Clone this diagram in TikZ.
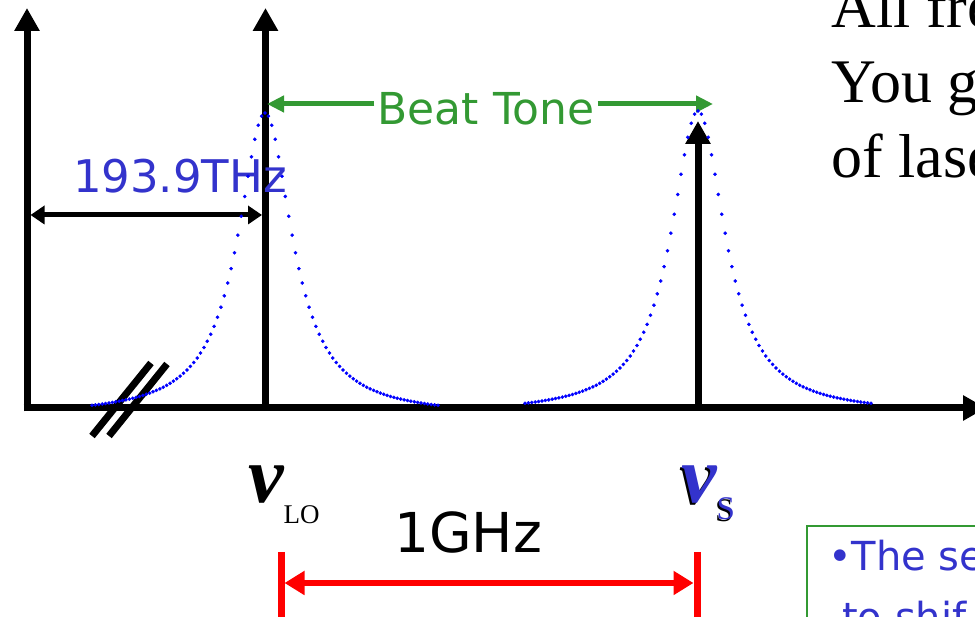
\documentclass[tikz,border=0pt]{standalone}
\usepackage{fontspec}
\setmainfont{Liberation Serif}
\newfontfamily\handfont{DejaVu Sans}
\usetikzlibrary{arrows.meta}
\definecolor{beatgreen}{RGB}{51,153,51}
\definecolor{labelblue}{RGB}{51,51,204}
\tikzset{
  axis/.style={line width=7pt, -{Triangle[length=23pt,width=24pt]}},
  thzarrow/.style={line width=5pt, {Triangle[length=14pt,width=18pt]}-{Triangle[length=14pt,width=18pt]}},
  beatline/.style={beatgreen, line width=5pt, -{Triangle[length=17pt,width=16pt]}},
  gaparrow/.style={red, line width=6pt, {Triangle[length=20pt,width=23pt]}-{Triangle[length=20pt,width=23pt]}},
  gapbar/.style={red, line width=7pt},
  breakmark/.style={line width=7pt},
  spectrum/.style={blue, only marks, mark=*, mark size=1.6pt, samples=103},
  hand/.style={font=\handfont\fontsize{#1}{#1}\selectfont},
  nulabel/.style={inner sep=0pt, anchor=base west},
}
% nu with a subscript: text, size, drop
\newcommand{\nusub}[3]{{\fontsize{80}{80}\selectfont\bfseries\itshape ν}{\fontsize{#2}{#2}\selectfont\raisebox{-#3}{#1}}}
\begin{document}
\begin{tikzpicture}[x=1pt,y=1pt]
    \useasboundingbox (0,0) rectangle (975,617);
    \clip (0,0) rectangle (975,617);
    % Axes and the two lines
    \coordinate (O) at (27,209);
    \coordinate (lo) at (265.5,209);
    \coordinate (sig) at (698,209);
    \draw[axis] (27,205.5) -- (27,609);
    \draw[axis] (23.5,209) -- (986,209);
    \draw[axis] (lo) -- (265.5,609);
    \draw[axis] (sig) -- (698,496);
    % Break marks on the axis
    \draw[breakmark] (92,181) -- (151,254);
    \draw[breakmark] (109,181) -- (167,253);
    % Frequency of the LO
    \node[hand=45, text=labelblue] (thz) at (180,441) {193.9THz};
    \coordinate (thzL) at (27,402);
    \coordinate (thzR) at (265.5,402);
    \draw[thzarrow] ([xshift=3.5pt]thzL) -- ([xshift=-3.5pt]thzR);
    % Beat tone
    \node[hand=44, text=beatgreen, inner sep=3pt] (beat) at (486,508) {Beat Tone};
    \coordinate (beatL) at (267,513);
    \coordinate (beatR) at (713,513);
    \draw[beatline] (beat.west |- beatL) -- (beatL);
    \draw[beatline] (beat.east |- beatR) -- (beatR);
    % Spectra
    \draw[spectrum, domain=92:438] plot (\x, {209+303/(1+((\x-265)/33)^2)-8});
    \draw[spectrum, domain=525:871] plot (\x, {211+303/(1+((\x-698)/33)^2)-8});
    % Labels under the axis
    \node[nulabel] (nulo) at (248,114) {\nusub{LO}{27}{21pt}};
    \node[nulabel] (nusshadow) at (679.5,112.5) {\nusub{S}{33}{17pt}};
    \node[nulabel, text=labelblue] (nus) at (681,114) {\nusub{S}{33}{17pt}};
    % Spacing of 1GHz
    \node[hand=55] (ghz) at (468,85) {1GHz};
    \coordinate (gapL) at (281,34);
    \coordinate (gapR) at (697,34);
    \draw[gapbar] (281,65) -- (281,-5);
    \draw[gapbar] (697,65) -- (697,-5);
    \draw[gaparrow] ([xshift=3.5pt]gapL) -- ([xshift=-3.5pt]gapR);
    % Slide text on the right
    \node[anchor=base west, font=\fontsize{62}{62}\selectfont] (line1) at (828,589) {All fre};
    \node[anchor=base west, font=\fontsize{62}{62}\selectfont] (line2) at (828,514) {You g};
    \node[anchor=base west, font=\fontsize{62}{62}\selectfont] (line3) at (828,439) {of lase};
    % Note box
    \draw[beatgreen, line width=2pt] (807,-10) rectangle (990,91);
    \node[hand=40, text=labelblue, anchor=base west, inner sep=0pt] (note1) at (828,46) {•The se};
    \node[hand=40, text=labelblue, anchor=base west, inner sep=0pt] (note2) at (842,-15) {to shif};
\end{tikzpicture}
\end{document}
